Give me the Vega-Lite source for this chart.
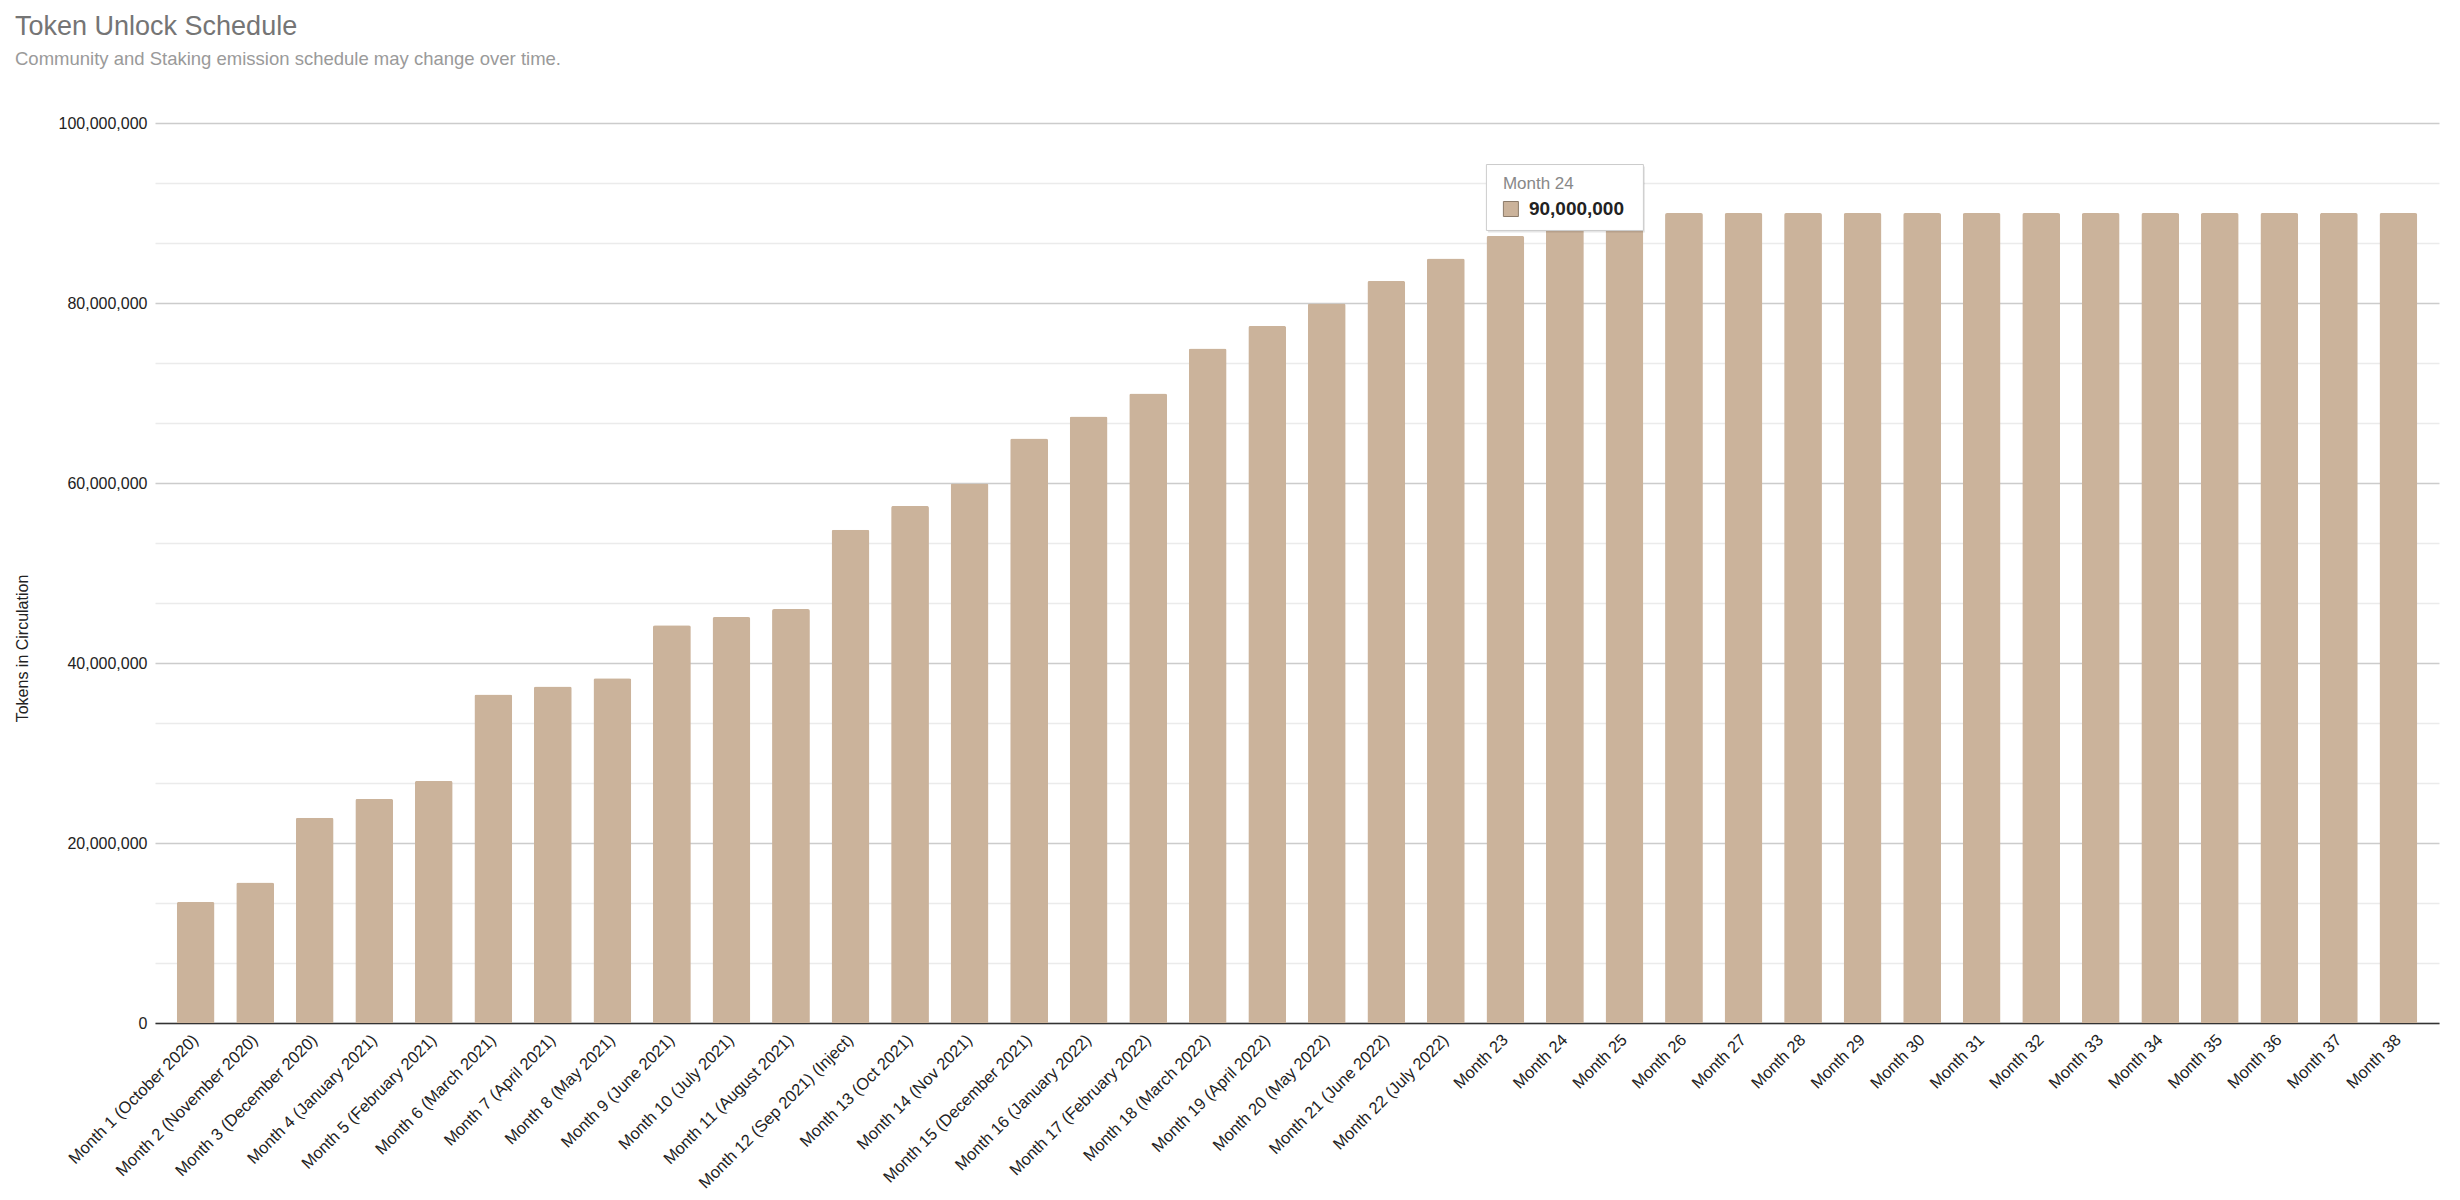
{
  "$schema": "https://vega.github.io/schema/vega-lite/v6.json",
  "autosize": "none",
  "width": 2284,
  "height": 900,
  "padding": {"left": 155, "top": 123, "right": 21, "bottom": 177},
  "background": "white",
  "config": {
    "view": {"stroke": null},
    "font": "Liberation Sans"
  },
  "title": {
    "text": "Token Unlock Schedule",
    "subtitle": "Community and Staking emission schedule may change over time.",
    "anchor": "start",
    "frame": "bounds",
    "dx": 1,
    "fontSize": 27,
    "fontWeight": "normal",
    "color": "#757575",
    "subtitleFontSize": 18.5,
    "subtitleColor": "#9a9a9a",
    "subtitlePadding": 9,
    "offset": 46
  },
  "datasets": {
    "schedule": [
      {"month": "Month 1 (October 2020)", "tokens": 13450000},
      {"month": "Month 2 (November 2020)", "tokens": 15600000},
      {"month": "Month 3 (December 2020)", "tokens": 22800000},
      {"month": "Month 4 (January 2021)", "tokens": 24900000},
      {"month": "Month 5 (February 2021)", "tokens": 26900000},
      {"month": "Month 6 (March 2021)", "tokens": 36500000},
      {"month": "Month 7 (April 2021)", "tokens": 37400000},
      {"month": "Month 8 (May 2021)", "tokens": 38300000},
      {"month": "Month 9 (June 2021)", "tokens": 44200000},
      {"month": "Month 10 (July 2021)", "tokens": 45100000},
      {"month": "Month 11 (August 2021)", "tokens": 46000000},
      {"month": "Month 12 (Sep 2021) (Inject)", "tokens": 54800000},
      {"month": "Month 13 (Oct 2021)", "tokens": 57450000},
      {"month": "Month 14 (Nov 2021)", "tokens": 59950000},
      {"month": "Month 15 (December 2021)", "tokens": 64950000},
      {"month": "Month 16 (January 2022)", "tokens": 67400000},
      {"month": "Month 17 (February 2022)", "tokens": 69950000},
      {"month": "Month 18 (March 2022)", "tokens": 74950000},
      {"month": "Month 19 (April 2022)", "tokens": 77450000},
      {"month": "Month 20 (May 2022)", "tokens": 79950000},
      {"month": "Month 21 (June 2022)", "tokens": 82450000},
      {"month": "Month 22 (July 2022)", "tokens": 84950000},
      {"month": "Month 23", "tokens": 87450000},
      {"month": "Month 24", "tokens": 90000000},
      {"month": "Month 25", "tokens": 90000000},
      {"month": "Month 26", "tokens": 90000000},
      {"month": "Month 27", "tokens": 90000000},
      {"month": "Month 28", "tokens": 90000000},
      {"month": "Month 29", "tokens": 90000000},
      {"month": "Month 30", "tokens": 90000000},
      {"month": "Month 31", "tokens": 90000000},
      {"month": "Month 32", "tokens": 90000000},
      {"month": "Month 33", "tokens": 90000000},
      {"month": "Month 34", "tokens": 90000000},
      {"month": "Month 35", "tokens": 90000000},
      {"month": "Month 36", "tokens": 90000000},
      {"month": "Month 37", "tokens": 90000000},
      {"month": "Month 38", "tokens": 90000000}
    ],
    "tip": [
      {"month": "Month 24", "tokens": 90000000}
    ]
  },
  "encoding": {
    "x": {
      "field": "month",
      "type": "nominal",
      "sort": null,
      "scale": {"paddingInner": 0.365, "paddingOuter": 0.365},
      "axis": {
        "title": null,
        "labelAngle": -45,
        "labelAlign": "right",
        "labelBaseline": "middle",
        "labelFontSize": 16.5,
        "labelColor": "#222222",
        "labelPadding": 14,
        "labelOverlap": false,
        "labelLimit": 400,
        "ticks": false,
        "domainColor": "#333333",
        "domainWidth": 1.5
      }
    },
    "y": {
      "field": "tokens",
      "type": "quantitative",
      "scale": {"domain": [0, 100000000], "nice": false},
      "axis": {
        "title": "Tokens in Circulation",
        "titleFontSize": 16,
        "titleFontWeight": "normal",
        "titleColor": "#222222",
        "titleX": -133,
        "titleY": 525,
        "titleAngle": -90,
        "titleAlign": "center",
        "titleBaseline": "middle",
        "values": [0, 6666667, 13333333, 20000000, 26666667, 33333333, 40000000, 46666667, 53333333, 60000000, 66666667, 73333333, 80000000, 86666667, 93333333, 100000000],
        "labelExpr": "datum.value % 20000000 === 0 ? format(datum.value, ',') : ''",
        "labelFontSize": 16,
        "labelColor": "#222222",
        "labelPadding": 8,
        "ticks": false,
        "domain": false,
        "gridColor": {"condition": {"test": "datum.value % 20000000 === 0", "value": "#cccccc"}, "value": "#ebebeb"},
        "gridWidth": 1.3
      }
    }
  },
  "layer": [
    {
      "data": {"name": "schedule"},
      "mark": {"type": "bar", "color": "#cbb39b", "cornerRadiusTopLeft": 2, "cornerRadiusTopRight": 2}
    },
    {
      "data": {"name": "tip"},
      "mark": {"type": "point", "shape": "M-1,-0.42V0.42H1V-0.42Z", "size": 24649, "filled": true, "fill": "#000000", "opacity": 0.1, "strokeWidth": 0, "xOffset": 1.5, "yOffset": -13.5}
    },
    {
      "data": {"name": "tip"},
      "mark": {"type": "point", "shape": "M-1,-0.42V0.42H1V-0.42Z", "size": 24649, "filled": true, "fill": "#ffffff", "opacity": 1, "stroke": "#cccccc", "strokeWidth": 1, "xOffset": 0, "yOffset": -15.5}
    },
    {
      "data": {"name": "tip"},
      "mark": {"type": "point", "shape": "square", "size": 225, "filled": true, "fill": "#cbb39b", "opacity": 1, "stroke": "#8c7b6a", "strokeWidth": 1, "xOffset": -54, "yOffset": -4}
    },
    {
      "data": {"name": "tip"},
      "mark": {"type": "text", "text": "Month 24", "align": "left", "baseline": "middle", "fontSize": 17, "color": "#888888", "dx": -62, "dy": -29}
    },
    {
      "data": {"name": "tip"},
      "mark": {"type": "text", "text": "90,000,000", "align": "left", "baseline": "middle", "fontSize": 19, "fontWeight": "bold", "color": "#222222", "dx": -36, "dy": -4}
    }
  ]
}
